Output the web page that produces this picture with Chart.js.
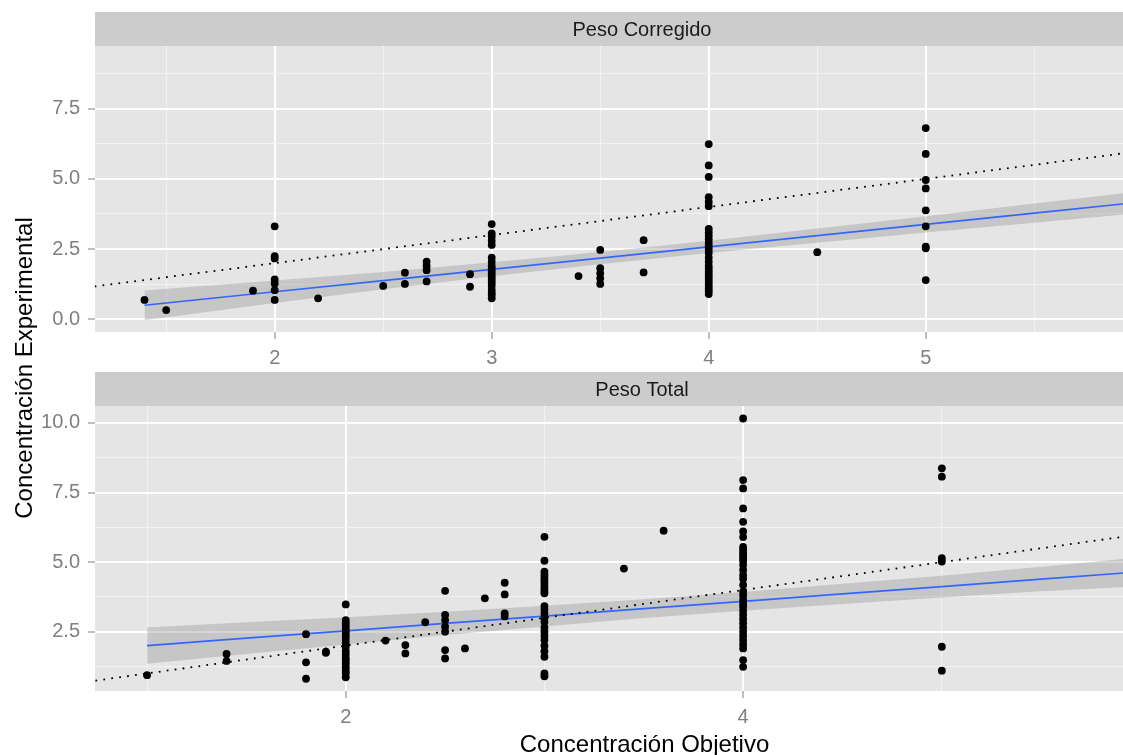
<!DOCTYPE html>
<html>
<head>
<meta charset="utf-8">
<title>Concentración Experimental vs Objetivo</title>
<script src="https://cdn.jsdelivr.net/npm/chart.js@4.4.1/dist/chart.umd.min.js"></script>
<style>
  html, body { margin: 0; padding: 0; background: #ffffff; }
  #figura {
    position: relative;
    width: 1123px;
    height: 755px;
    overflow: hidden;
    font-family: "Liberation Sans", Arial, sans-serif;
  }
  .panel { position: absolute; left: 0; width: 1193px; }
  #panelCorregido { top: 0; height: 366px; }
  #panelTotal { top: 366px; height: 389px; }
  .titulo {
    position: absolute;
    font-size: 24px;
    line-height: 24px;
    color: #000000;
    white-space: nowrap;
    text-align: center;
  }
  #tituloX { left: 0; width: 1289px; top: 732px; }
  #tituloY { left: -226px; top: 356px; width: 500px; transform: rotate(-90deg); }
</style>
</head>
<body>
<div id="figura">
  <div class="panel" id="panelCorregido"><canvas id="graficoCorregido"></canvas></div>
  <div class="panel" id="panelTotal"><canvas id="graficoTotal"></canvas></div>
  <div class="titulo" id="tituloY">Concentración Experimental</div>
  <div class="titulo" id="tituloX">Concentración Objetivo</div>
</div>

<script>
// --- Peso Corregido: concentración objetivo y medidas experimentales en cada nivel
const corregidoNiveles = [1.4, 1.5, 1.9, 2, 2.2, 2.5, 2.6, 2.7, 2.9, 3, 3.4, 3.5, 3.7, 4, 4.5, 5]
const corregidoMedidas = [
  [0.69],
  [0.33],
  [1.02],
  [3.31, 2.25, 2.17, 1.42, 1.28, 1.04, 0.69],
  [0.75],
  [1.19],
  [1.66, 1.26],
  [2.05, 1.9, 1.75, 1.35],
  [1.61, 1.16],
  [3.39, 3.06, 2.95, 2.8, 2.65, 2.2, 2.05, 1.9, 1.8, 1.7, 1.6, 1.5, 1.4, 1.3, 1.2, 1.05, 0.95, 0.87, 0.75],
  [1.54],
  [2.47, 1.82, 1.64, 1.46, 1.26],
  [2.82, 1.67],
  [6.24, 5.48, 5.07, 4.35, 4.18, 4.03, 3.22, 3.1, 2.98, 2.85, 2.72, 2.6, 2.48, 2.36, 2.2, 2.05, 1.9, 1.8, 1.7, 1.6, 1.5, 1.4, 1.3, 1.2, 1.1, 1.0, 0.9],
  [2.39],
  [6.81, 5.89, 4.96, 4.66, 3.88, 3.31, 2.59, 2.53, 1.40]
]
// recta ajustada (lm) y su banda de confianza
const corregidoAjusteX = [1.4, 2, 2.5, 3, 3.5, 4, 4.5, 5, 5.5, 5.95]
const corregidoAjuste = [0.50, 0.98, 1.38, 1.78, 2.18, 2.58, 2.98, 3.38, 3.78, 4.14]
const corregidoBandaSup = [1.03, 1.38, 1.69, 2.03, 2.40, 2.80, 3.23, 3.67, 4.12, 4.52]
const corregidoBandaInf = [-0.03, 0.58, 1.07, 1.53, 1.96, 2.36, 2.73, 3.09, 3.44, 3.76]
const corregidoIdentidad = [1.17, 6.21]
const corregidoLimX = [1.172, 6.213]
const corregidoLimY = [-0.45, 9.73]
const corregidoTicksX = [2, 3, 4, 5]
const corregidoMenoresX = [1.5, 2.5, 3.5, 4.5, 5.5]
const corregidoTicksY = [0, 2.5, 5, 7.5]
const corregidoMenoresY = [1.25, 3.75, 6.25, 8.75]

// --- Peso Total
const totalNiveles = [1, 1.4, 1.8, 1.9, 2, 2.2, 2.3, 2.4, 2.5, 2.6, 2.7, 2.8, 3, 3.4, 3.6, 4, 5]
const totalMedidas = [
  [0.94],
  [1.70, 1.45],
  [2.41, 1.40, 0.81],
  [1.78, 1.74],
  [3.48, 2.92, 2.82, 2.72, 2.62, 2.52, 2.42, 2.32, 2.2, 2.08, 1.95, 1.8, 1.68, 1.55, 1.45, 1.35, 1.22, 1.1, 1.0, 0.86],
  [2.18],
  [2.02, 1.72],
  [2.84],
  [3.97, 3.10, 2.92, 2.68, 2.5, 1.84, 1.54],
  [1.90],
  [3.70],
  [4.26, 3.84, 3.16, 3.05],
  [5.91, 5.05, 4.66, 4.55, 4.45, 4.35, 4.25, 4.15, 4.05, 3.95, 3.88, 3.42, 3.3, 3.15, 3.0, 2.85, 2.65, 2.5, 2.35, 2.2, 2.0, 1.8, 1.6, 1.0, 0.9],
  [4.77],
  [6.13],
  [10.16, 7.95, 7.65, 6.93, 6.45, 6.1, 5.9, 5.55, 5.45, 5.35, 5.25, 5.15, 5.05, 4.9, 4.72, 4.54, 4.4, 4.18, 3.94, 3.8, 3.64, 3.5, 3.4, 3.25, 3.1, 2.95, 2.8, 2.65, 2.5, 2.35, 2.2, 2.05, 1.9, 1.48, 1.24],
  [8.37, 8.07, 5.14, 5.02, 1.96, 1.10]
]
const totalAjusteX = [1, 1.5, 2, 2.5, 3, 3.5, 4, 4.5, 5, 5.5, 5.95]
const totalAjuste = [2.0, 2.27, 2.53, 2.80, 3.06, 3.33, 3.59, 3.86, 4.12, 4.39, 4.63]
const totalBandaSup = [2.65, 2.84, 3.02, 3.22, 3.43, 3.67, 3.93, 4.22, 4.51, 4.83, 5.14]
const totalBandaInf = [1.35, 1.70, 2.04, 2.38, 2.69, 2.99, 3.25, 3.50, 3.73, 3.95, 4.12]
const totalIdentidad = [0.74, 6.24]
const totalLimX = [0.738, 6.244]
const totalLimY = [0.37, 10.61]
const totalTicksX = [2, 4]
const totalMenoresX = [1, 3, 5]
const totalTicksY = [2.5, 5, 7.5, 10]
const totalMenoresY = [1.25, 3.75, 6.25, 8.75]

const FUENTE = '"Liberation Sans", Arial, sans-serif'

// panel gris y franja con el nombre de la faceta
const fondoFaceta = {
  id: 'fondoFaceta',
  beforeDraw(chart, args, opts) {
    const { ctx, chartArea: a } = chart
    ctx.save()
    ctx.fillStyle = '#e5e5e5'
    ctx.fillRect(a.left, a.top, a.right - a.left, a.bottom - a.top)
    ctx.fillStyle = '#cccccc'
    ctx.fillRect(a.left, a.top - opts.alto, a.right - a.left, opts.alto)
    ctx.fillStyle = '#1a1a1a'
    ctx.font = '20px ' + FUENTE
    ctx.textAlign = 'center'
    ctx.textBaseline = 'middle'
    ctx.fillText(opts.etiqueta, (a.left + a.right) / 2, a.top - opts.alto / 2 + 1)
    ctx.restore()
  }
}

function puntos(niveles, medidas) {
  return niveles.flatMap((x, i) => medidas[i].map(y => ({ x, y })))
}

function serie(xs, ys) {
  return xs.map((x, i) => ({ x, y: ys[i] }))
}

function escala(lim, mayores, menores, formato, extra) {
  const todos = [...mayores, ...menores].sort((a, b) => a - b)
  const esMayor = v => mayores.includes(v)
  return {
    type: 'linear',
    min: lim[0],
    max: lim[1],
    afterBuildTicks: s => { s.ticks = todos.map(value => ({ value })) },
    ticks: {
      autoSkip: false,
      maxRotation: 0,
      color: '#7f7f7f',
      padding: extra.padding,
      font: { size: 20, family: FUENTE },
      callback: v => esMayor(v) ? formato(v) : ''
    },
    grid: {
      color: c => (c.tick && esMayor(c.tick.value)) ? '#ffffff' : '#f2f2f2',
      lineWidth: c => (c.tick && esMayor(c.tick.value)) ? 2 : 1.1,
      tickColor: c => (c.tick && esMayor(c.tick.value)) ? '#7f7f7f' : 'rgba(0,0,0,0)',
      tickWidth: 1,
      tickLength: 7
    },
    border: { display: false },
    afterFit: extra.afterFit
  }
}

function faceta(id, cfg) {
  return new Chart(document.getElementById(id), {
    type: 'scatter',
    data: {
      datasets: [
        {
          data: puntos(cfg.niveles, cfg.medidas),
          backgroundColor: '#000000',
          borderWidth: 0,
          pointRadius: 3.9
        },
        {
          data: serie(cfg.identidad, cfg.identidad),
          showLine: true,
          borderColor: '#000000',
          borderWidth: 1.8,
          borderDash: [1.8, 6.2],
          pointRadius: 0
        },
        {
          data: serie(cfg.ajusteX, cfg.ajuste),
          showLine: true,
          borderColor: '#3366ff',
          borderWidth: 1.6,
          pointRadius: 0
        },
        {
          data: serie(cfg.ajusteX, cfg.bandaInf),
          showLine: true,
          borderWidth: 0,
          pointRadius: 0,
          fill: false
        },
        {
          data: serie(cfg.ajusteX, cfg.bandaSup),
          showLine: true,
          borderWidth: 0,
          pointRadius: 0,
          backgroundColor: 'rgba(153, 153, 153, 0.4)',
          fill: '-1'
        }
      ]
    },
    options: {
      responsive: true,
      maintainAspectRatio: false,
      animation: false,
      layout: { padding: { top: cfg.arriba, left: 0, right: 0, bottom: 0 } },
      plugins: {
        legend: { display: false },
        tooltip: { enabled: false },
        fondoFaceta: { etiqueta: cfg.etiqueta, alto: 34 }
      },
      scales: {
        x: escala(cfg.limX, cfg.ticksX, cfg.menoresX, v => String(v), {
          padding: 7,
          afterFit: s => { s.height = cfg.altoEjeX }
        }),
        y: escala(cfg.limY, cfg.ticksY, cfg.menoresY, v => v.toFixed(1), {
          padding: 8,
          afterFit: s => { s.width = 95 }
        })
      }
    },
    plugins: [fondoFaceta]
  })
}

faceta('graficoCorregido', {
  etiqueta: 'Peso Corregido',
  niveles: corregidoNiveles,
  medidas: corregidoMedidas,
  ajusteX: corregidoAjusteX,
  ajuste: corregidoAjuste,
  bandaSup: corregidoBandaSup,
  bandaInf: corregidoBandaInf,
  identidad: corregidoIdentidad,
  limX: corregidoLimX,
  limY: corregidoLimY,
  ticksX: corregidoTicksX,
  menoresX: corregidoMenoresX,
  ticksY: corregidoTicksY,
  menoresY: corregidoMenoresY,
  arriba: 46,
  altoEjeX: 34
})

faceta('graficoTotal', {
  etiqueta: 'Peso Total',
  niveles: totalNiveles,
  medidas: totalMedidas,
  ajusteX: totalAjusteX,
  ajuste: totalAjuste,
  bandaSup: totalBandaSup,
  bandaInf: totalBandaInf,
  identidad: totalIdentidad,
  limX: totalLimX,
  limY: totalLimY,
  ticksX: totalTicksX,
  menoresX: totalMenoresX,
  ticksY: totalTicksY,
  menoresY: totalMenoresY,
  arriba: 40,
  altoEjeX: 64
})
</script>
</body>
</html>
